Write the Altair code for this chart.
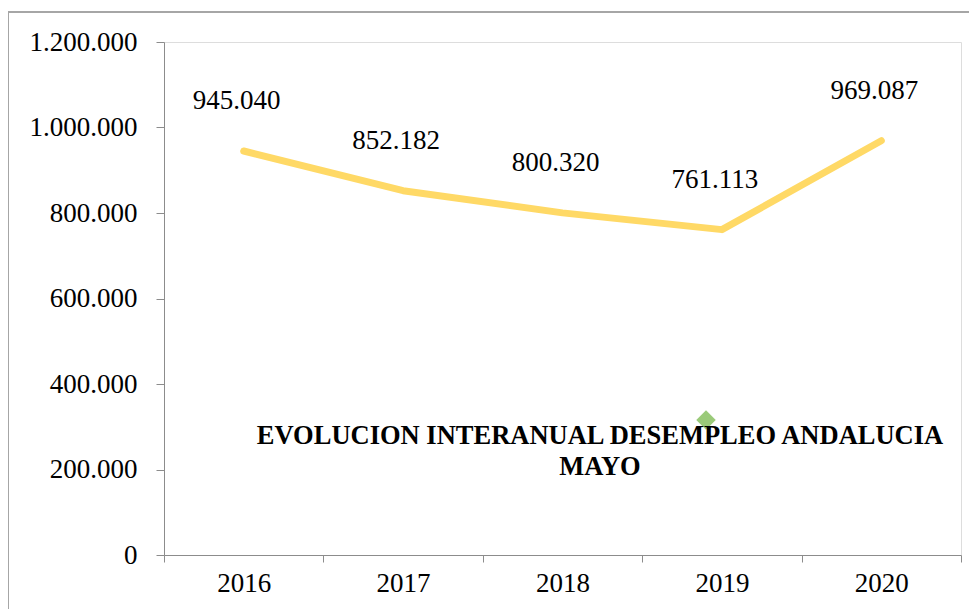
import altair as alt
import pandas as pd

years = ["2016", "2017", "2018", "2019", "2020"]
parados = [945040, 852182, 800320, 761113, 969087]
y_ticks = [0, 200000, 400000, 600000, 800000, 1000000, 1200000]
title_lines = ["EVOLUCION INTERANUAL DESEMPLEO ANDALUCIA", "MAYO"]

df = pd.DataFrame({"year": years, "value": parados})

FONT = "'Liberation Serif', 'DejaVu Serif', serif"
GRAY = "#8c8c8c"

x_enc = alt.X("year:O", bandPosition=0.5,
              scale=alt.Scale(type="band", paddingInner=0, paddingOuter=0),
              axis=alt.Axis(title=None, labelAngle=0, tickBand="extent",
                            labelFontSize=27, labelFont=FONT, labelColor="#000",
                            labelPadding=8, tickSize=7, tickColor=GRAY,
                            domainColor=GRAY))
y_enc = alt.Y("value:Q", scale=alt.Scale(domain=[0, 1200000], nice=False),
              axis=alt.Axis(title=None, values=y_ticks, format=",d", grid=False,
                            labelFontSize=27, labelFont=FONT, labelColor="#000",
                            labelPadding=19, tickSize=8, tickColor=GRAY,
                            domainColor=GRAY))

base = alt.Chart(df)

frame = base.mark_rect(fill="white", fillOpacity=0, stroke="#a6a6a6",
                       strokeWidth=1.5).encode(
    x=alt.value(-156), x2=alt.value(1000), y=alt.value(-30), y2=alt.value(700))

line = base.mark_line(color="#FFD966", strokeWidth=7, strokeCap="round",
                      strokeJoin="round").encode(x=x_enc, y=y_enc)

labels = base.mark_text(font=FONT, fontSize=27, dy=-50, dx=-7,
                        baseline="middle", color="#000").encode(
    x=alt.X("year:O", bandPosition=0.5), y="value:Q",
    text=alt.Text("value:Q", format=",d"))

title_df = pd.DataFrame({"t": [title_lines]})
title = alt.Chart(title_df).mark_text(font=FONT, fontSize=26.5, fontWeight="bold",
                                      lineHeight=31, baseline="middle",
                                      align="center", color="#000").encode(
    x=alt.value(436), y=alt.value(394), text="t")

marker = alt.Chart(pd.DataFrame({"a": [0]})).mark_point(
    shape="diamond", filled=True, color="#8fc46a", size=380, opacity=0.9).encode(
    x=alt.value(542), y=alt.value(378))

chart = alt.layer(frame, line, labels, marker, title).properties(
    width=797, height=513,
    autosize=alt.AutoSizeParams(type="none"),
    padding={"left": 156, "top": 34, "right": 8, "bottom": 54},
).configure_view(stroke=None).configure(
    locale={"number": {"decimal": ",", "thousands": ".", "grouping": [3],
                       "currency": ["", "€"]}}
)

chart.save("out.html", embed_options={"renderer": "svg", "actions": False})
